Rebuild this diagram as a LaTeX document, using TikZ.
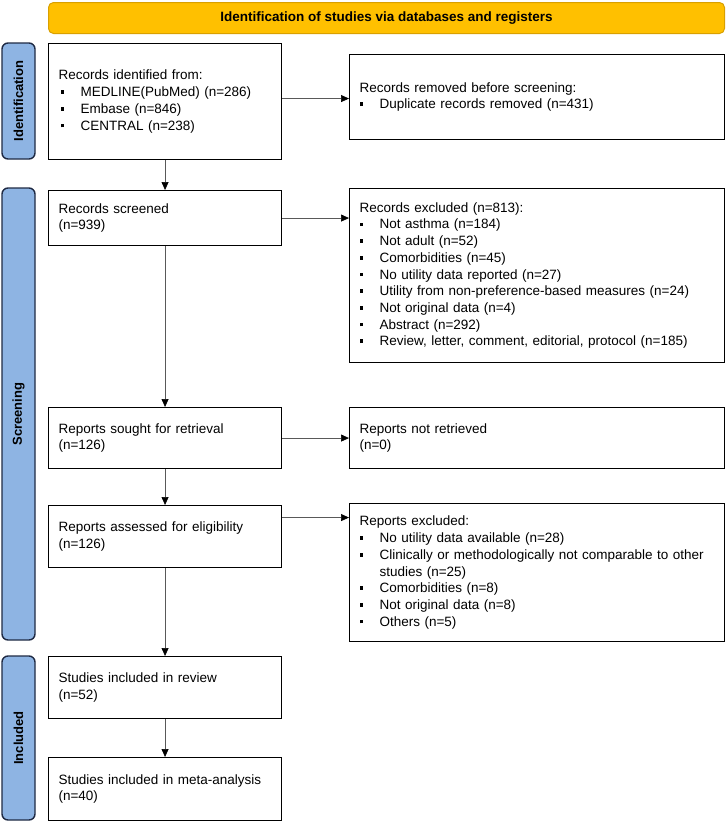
\documentclass[tikz,border=0pt]{standalone}
\usepackage{fontspec}
\setmainfont{Liberation Sans}
\usetikzlibrary{arrows.meta}
\definecolor{headgold}{HTML}{FFC000}
\definecolor{headline}{HTML}{D9A000}
\definecolor{phaseblue}{HTML}{8EB4E3}
\definecolor{phaseline}{HTML}{1F2A44}
\newcommand{\sqbul}{\makebox[20pt][l]{\rule[2.8pt]{3.6pt}{3.6pt}}}
\newcommand{\sqbulin}{\makebox[22pt][l]{\hspace{2pt}\rule[2.8pt]{3.6pt}{3.6pt}}}
\begin{document}
\begin{tikzpicture}[
    x=1pt, y=-1pt,
    font=\fontsize{13.5}{16.7}\selectfont,
    box/.style={draw, line width=1.1pt, anchor=north west, align=left, inner xsep=10pt, inner ysep=0pt},
    leftbox/.style={box, text width=213pt},
    rightbox/.style={box, text width=355pt},
    phase/.style={draw=phaseline, fill=phaseblue, line width=1.4pt, rounded corners=6pt,
      minimum height=33pt, inner sep=0pt, rotate=90, font=\fontsize{13}{15}\selectfont\bfseries},
    arr/.style={draw=black!65, line width=0.7pt, -{Triangle[length=8pt,width=7pt,color=black]}}
  ]
  \useasboundingbox (0,0) rectangle (726,822);
  \node[draw=headline, fill=headgold, line width=1pt, rounded corners=5pt, anchor=north west,
    minimum width=676pt, minimum height=31pt, inner sep=0pt, font=\fontsize{13.5}{16}\selectfont\bfseries]
    (head) at (48,2) {Identification of studies via databases and registers};

  \node[phase, minimum width=116pt] (pid) at (18.5,101) {Identification};
  \node[phase, minimum width=452pt] (pscr) at (18.5,414) {Screening};
  \node[phase, minimum width=164pt] (pinc) at (18.5,738) {Included};

  \node[leftbox, minimum height=116pt] (ident) at (48,43)
    {Records identified from:\\ \sqbulin MEDLINE(PubMed) (n=286)\\ \sqbulin Embase (n=846)\\ \sqbulin CENTRAL (n=238)};
  \node[rightbox, minimum height=85pt] (removed) at (349,54)
    {Records removed before screening:\\ \sqbul Duplicate records removed (n=431)};

  \node[leftbox, minimum height=55pt] (screened) at (48,190) {Records screened\\(n=939)};
  \node[rightbox, minimum height=174pt] (excl) at (349,188)
    {Records excluded (n=813):\\ \sqbul Not asthma (n=184)\\ \sqbul Not adult (n=52)\\ \sqbul Comorbidities (n=45)\\
     \sqbul No utility data reported (n=27)\\ \sqbul Utility from non-preference-based measures (n=24)\\
     \sqbul Not original data (n=4)\\ \sqbul Abstract (n=292)\\ \sqbul Review, letter, comment, editorial, protocol (n=185)};

  \node[leftbox, minimum height=61pt] (sought) at (48,407) {Reports sought for retrieval\\(n=126)};
  \node[rightbox, minimum height=61pt] (notret) at (349,407) {Reports not retrieved\\(n=0)};

  \node[leftbox, minimum height=62pt] (assess) at (48,505) {Reports assessed for eligibility\\(n=126)};
  \node[rightbox, minimum height=138pt] (rexcl) at (349,503)
    {Reports excluded:\\ \sqbul No utility data available (n=28)\\ \sqbul Clinically or methodologically not comparable to other\\
     \hspace*{20pt}studies (n=25)\\ \sqbul Comorbidities (n=8)\\ \sqbul Not original data (n=8)\\ \sqbul Others (n=5)};

  \node[leftbox, minimum height=62pt] (review) at (48,656) {Studies included in review\\(n=52)};
  \node[leftbox, minimum height=63pt] (meta) at (48,757) {Studies included in meta-analysis\\(n=40)};

  \draw[arr] ([yshift=3pt]ident.east) -- ([yshift=3pt]ident.east -| removed.west);
  \draw[arr] (screened.east) -- (screened.east -| excl.west);
  \draw[arr] (sought.east) -- (notret.west);
  \draw[arr] ([yshift=19pt]assess.east) -- ([yshift=19pt]assess.east -| rexcl.west);
  \draw[arr] (ident) -- (screened);
  \draw[arr] (screened) -- (sought);
  \draw[arr] (sought) -- (assess);
  \draw[arr] (assess) -- (review);
  \draw[arr] (review) -- (meta);
\end{tikzpicture}
\end{document}
